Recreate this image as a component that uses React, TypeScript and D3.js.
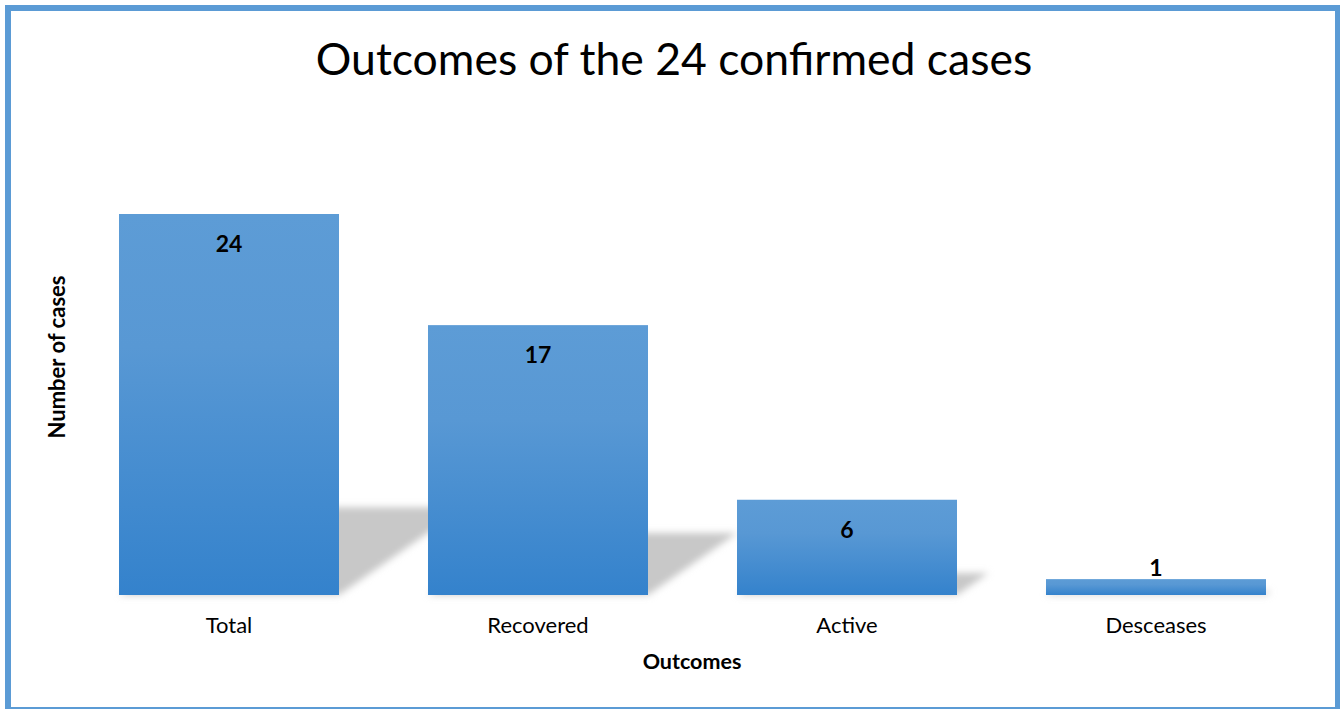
import React from "react";
import * as d3 from "d3";

const categories = ["Total", "Recovered", "Active", "Desceases"];
const values = [24, 17, 6, 1];
const titleText = "Outcomes of the 24 confirmed cases";
const xAxisTitle = "Outcomes";
const yAxisTitle = "Number of cases";

const W = 1340;
const H = 709;
const FONT = "Lato, 'Open Sans', sans-serif";

export default function App() {
  const baseline = 595;
  const x = d3
    .scaleBand<string>()
    .domain(categories)
    .range([74.5, 1310.5])
    .paddingInner(0.288)
    .paddingOuter(0.144);
  const y = d3.scaleLinear().domain([0, 24]).range([baseline, 214]);

  const k = 0.23;
  const s = 0.33;

  return (
    <svg
      width={W}
      height={H}
      style={{ position: "absolute", left: 0, top: 0, background: "#fff" }}
      fontFamily={FONT}
    >
      <defs>
        <linearGradient id="barGrad" x1="0" y1="0" x2="0" y2="1">
          <stop offset="0" stopColor="#5d9cd6" />
          <stop offset="0.35" stopColor="#5898d4" />
          <stop offset="1" stopColor="#3482cc" />
        </linearGradient>
        <filter id="blur" x="-20%" y="-50%" width="140%" height="200%">
          <feGaussianBlur stdDeviation="3.5" />
        </filter>
      </defs>
      <rect x={0} y={0} width={W} height={H} fill="#fff" />
      <rect
        x={8}
        y={8}
        width={1330}
        height={702}
        fill="none"
        stroke="#5b9bd5"
        strokeWidth={6}
      />
      <text x={674} y={75} textAnchor="middle" fontSize={44.5} fill="#000">
        {titleText}
      </text>

      {/* shadows */}
      <g filter="url(#blur)">
        {categories.map((c, i) => {
          const x0 = x(c)!;
          const x1 = x0 + x.bandwidth();
          const h = baseline - y(values[i]);
          const pts = [
            [x0, baseline],
            [x1, baseline],
            [x1 + h * s, baseline - h * k],
            [x0 + h * s, baseline - h * k],
          ];
          return (
            <polygon
              key={c}
              points={pts.map((p) => p.join(",")).join(" ")}
              fill="#c8c8c8"
            />
          );
        })}
      </g>

      {categories.map((c, i) => {
        const x0 = x(c)!;
        const top = y(values[i]);
        const h = baseline - top;
        const cx = x0 + x.bandwidth() / 2;
        const ly = h > 50 ? top + 38 : top - 3;
        return (
          <g key={c}>
            <rect
              x={x0}
              y={top}
              width={x.bandwidth()}
              height={h}
              fill="url(#barGrad)"
            />
            <text
              x={cx}
              y={ly}
              textAnchor="middle"
              fontSize={23}
              fontWeight="bold"
              fill="#000"
            >
              {values[i]}
            </text>
            <text x={cx} y={633} textAnchor="middle" fontSize={22} fill="#000">
              {c}
            </text>
          </g>
        );
      })}

      <text
        x={692}
        y={669}
        textAnchor="middle"
        fontSize={21.5}
        fontWeight="bold"
        fill="#000"
      >
        {xAxisTitle}
      </text>
      <text
        transform="translate(65,357) rotate(-90)"
        textAnchor="middle"
        fontSize={22}
        fontWeight="bold"
        fill="#000"
      >
        {yAxisTitle}
      </text>
    </svg>
  );
}
